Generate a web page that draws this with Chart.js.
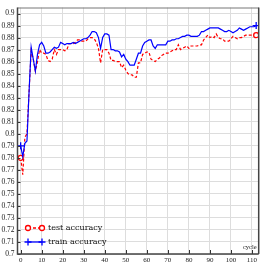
<!DOCTYPE html>
<html>
<head>
<meta charset="utf-8">
<script src="https://cdn.jsdelivr.net/npm/chart.js@4/dist/chart.umd.min.js"></script>
<style>
  html, body { margin: 0; padding: 0; background: #fff; }
  #wrap { width: 264px; height: 264px; }
</style>
</head>
<body>
<div id="wrap"><canvas id="chart" width="264" height="264"></canvas></div>
<script>
/************************ data **********************************************/
const cycles = [0, 1, 2, 3, 4, 5, 6, 7, 8, 9, 10, 11, 12, 13, 14, 15, 16, 17, 18, 19,
  20, 21, 22, 23, 24, 25, 26, 27, 28, 29, 30, 31, 32, 33, 34, 35, 36, 37, 38, 39,
  40, 41, 42, 43, 44, 45, 46, 47, 48, 49, 50, 51, 52, 53, 54, 55, 56, 57, 58, 59,
  60, 61, 62, 63, 64, 65, 66, 67, 68, 69, 70, 71, 72, 73, 74, 75, 76, 77, 78, 79,
  80, 81, 82, 83, 84, 85, 86, 87, 88, 89, 90, 91, 92, 93, 94, 95, 96, 97, 98, 99,
  100, 101, 102, 103, 104, 105, 106, 107, 108, 109, 110, 111, 112];

const testAccuracy = [0.780, 0.766, 0.797, 0.800, 0.835, 0.869, 0.862, 0.852, 0.860, 0.870,
  0.867, 0.867, 0.866, 0.861, 0.860, 0.862, 0.870, 0.866, 0.870, 0.870,
  0.870, 0.869, 0.870, 0.875, 0.875, 0.875, 0.876, 0.878, 0.878, 0.877,
  0.877, 0.877, 0.879, 0.880, 0.880, 0.879, 0.876, 0.871, 0.859, 0.870,
  0.870, 0.870, 0.867, 0.861, 0.861, 0.860, 0.860, 0.860, 0.855, 0.857,
  0.853, 0.850, 0.849, 0.849, 0.847, 0.847, 0.859, 0.859, 0.866, 0.867,
  0.868, 0.868, 0.862, 0.861, 0.860, 0.862, 0.863, 0.865, 0.866, 0.867,
  0.867, 0.868, 0.869, 0.870, 0.870, 0.874, 0.870, 0.871, 0.872, 0.873,
  0.871, 0.873, 0.873, 0.873, 0.873, 0.874, 0.874, 0.878, 0.880, 0.882,
  0.880, 0.881, 0.880, 0.883, 0.880, 0.879, 0.879, 0.877, 0.877, 0.877,
  0.879, 0.881, 0.880, 0.879, 0.880, 0.880, 0.881, 0.882, 0.882, 0.882,
  0.882, 0.882, 0.882];

const trainAccuracy = [0.790, 0.781, 0.792, 0.794, 0.835, 0.872, 0.862, 0.852, 0.866, 0.874,
  0.876, 0.873, 0.867, 0.867, 0.868, 0.870, 0.872, 0.871, 0.872, 0.876,
  0.875, 0.874, 0.875, 0.875, 0.875, 0.876, 0.875, 0.876, 0.877, 0.878,
  0.879, 0.879, 0.880, 0.882, 0.885, 0.885, 0.884, 0.880, 0.871, 0.880,
  0.883, 0.883, 0.882, 0.870, 0.870, 0.869, 0.869, 0.868, 0.864, 0.866,
  0.862, 0.860, 0.857, 0.857, 0.857, 0.862, 0.867, 0.867, 0.873, 0.876,
  0.877, 0.878, 0.878, 0.873, 0.871, 0.874, 0.874, 0.874, 0.874, 0.874,
  0.877, 0.877, 0.878, 0.878, 0.879, 0.879, 0.880, 0.881, 0.881, 0.882,
  0.882, 0.881, 0.881, 0.881, 0.881, 0.882, 0.885, 0.885, 0.886, 0.887,
  0.888, 0.888, 0.888, 0.888, 0.888, 0.887, 0.886, 0.885, 0.885, 0.886,
  0.885, 0.884, 0.885, 0.886, 0.888, 0.887, 0.886, 0.887, 0.888, 0.889,
  0.889, 0.889, 0.890];

const xTicks = [0, 10, 20, 30, 40, 50, 60, 70, 80, 90, 100, 110];
const yTicks = [0.7, 0.71, 0.72, 0.73, 0.74, 0.75, 0.76, 0.77, 0.78, 0.79, 0.8,
  0.81, 0.82, 0.83, 0.84, 0.85, 0.86, 0.87, 0.88, 0.89, 0.9];
const seriesNames = ["test accuracy", "train accuracy"];
const xTitle = "cycle";

const FONT = "'Liberation Serif', 'DejaVu Serif', serif";
const LEGEND_FONT = "'DejaVu Serif', serif";

function pairs(ys) {
  return cycles.map((c, i) => ({ x: c, y: ys[i] }));
}
function endsOnly(r) {
  return function (ctx) {
    return (ctx.dataIndex === 0 || ctx.dataIndex === cycles.length - 1) ? r : 0;
  };
}

/************************ frame, inward ticks, legend ***********************/
const decorations = {
  id: "decorations",
  afterDatasetsDraw(chart) {
    const c = chart.ctx;
    const a = chart.chartArea;
    const xs = chart.scales.x, ys = chart.scales.y;
    c.save();
    // inward ticks
    c.strokeStyle = "#333";
    c.lineWidth = 1;
    c.beginPath();
    yTicks.forEach(v => {
      const py = Math.round(ys.getPixelForValue(v)) + 0.5;
      c.moveTo(a.left, py); c.lineTo(a.left + 3, py);
    });
    xTicks.forEach(v => {
      const px = Math.round(xs.getPixelForValue(v)) + 0.5;
      c.moveTo(px, a.bottom); c.lineTo(px, a.bottom - 4);
    });
    c.stroke();
    // frame
    c.strokeStyle = "#777";
    c.lineWidth = 1;
    c.beginPath();
    c.moveTo(a.left, a.top + 0.5); c.lineTo(a.right, a.top + 0.5);
    c.stroke();
    c.strokeStyle = "#444";
    c.lineWidth = 1.5;
    c.beginPath();
    c.moveTo(a.right, a.top); c.lineTo(a.right, a.bottom);
    c.moveTo(a.left, a.top); c.lineTo(a.left, a.bottom); c.lineTo(a.right, a.bottom);
    c.stroke();

    // axis title inside the plot, lower right
    c.fillStyle = "#222";
    c.font = "6.5px " + FONT;
    c.textAlign = "right";
    c.textBaseline = "middle";
    c.fillText(xTitle, a.right - 2, a.bottom - 7);

    // legend, lower left inside the plot
    const rows = [
      { ds: chart.data.datasets[0], y: 228 },
      { ds: chart.data.datasets[1], y: 242 }
    ];
    rows.forEach(r => {
      const ds = r.ds;
      c.strokeStyle = ds.borderColor;
      c.lineWidth = 1.3;
      c.setLineDash(ds.borderDash || []);
      c.beginPath();
      c.moveTo(28, r.y); c.lineTo(42, r.y);
      c.stroke();
      c.setLineDash([]);
      [28, 42].forEach(px => {
        c.beginPath();
        if (ds.pointStyle === "circle") {
          c.fillStyle = "#fff";
          c.arc(px, r.y, 2.5, 0, Math.PI * 2);
          c.fill();
          c.stroke();
        } else {
          c.moveTo(px - 3.5, r.y); c.lineTo(px + 3.5, r.y);
          c.moveTo(px, r.y - 3.5); c.lineTo(px, r.y + 3.5);
          c.stroke();
        }
      });
      c.fillStyle = "#111";
      c.font = "8px " + LEGEND_FONT;
      c.textAlign = "left";
      c.textBaseline = "middle";
      c.fillText(ds.label, 48, r.y);
    });
    c.restore();
  }
};

/************************* CHART INITIALIZATION ******************************/
const ctx = document.getElementById("chart").getContext("2d");
const myChart = new Chart(ctx, {
  type: "line",
  data: {
    datasets: [
      {
        label: seriesNames[0],
        data: pairs(testAccuracy),
        borderColor: "#ff0000",
        backgroundColor: "#ffffff",
        borderWidth: 1.2,
        borderDash: [3, 2],
        pointStyle: "circle",
        pointRadius: endsOnly(2.5),
        pointBorderWidth: 1.3,
        pointBorderColor: "#ff0000",
        pointBackgroundColor: "#ffffff",
        order: 1,
        tension: 0,
      },
      {
        label: seriesNames[1],
        data: pairs(trainAccuracy),
        borderColor: "#0000ff",
        backgroundColor: "#0000ff",
        borderWidth: 1.2,
        pointStyle: "cross",
        pointRadius: endsOnly(3.5),
        pointBorderWidth: 1.3,
        pointBorderColor: "#0000ff",
        order: 0,
        tension: 0,
      },
    ],
  },
  options: {
    responsive: false,
    animation: false,
    devicePixelRatio: 1,
    layout: { padding: { top: 4, right: 4.5, left: 0, bottom: 0 } },
    plugins: {
      legend: { display: false },
      tooltip: { enabled: false },
    },
    scales: {
      x: {
        type: "linear",
        min: -1.5,
        max: 113.2,
        afterBuildTicks: s => { s.ticks = xTicks.map(v => ({ value: v })); },
        afterFit: s => { s.height = 10; },
        grid: { color: "#dddddd", lineWidth: 1, drawTicks: false },
        border: { display: false },
        ticks: {
          padding: 2,
          maxRotation: 0,
          autoSkip: false,
          color: "#222",
          font: { family: FONT, size: 7 },
          callback: v => String(v),
        },
      },
      y: {
        type: "linear",
        min: 0.7,
        max: 0.905,
        afterBuildTicks: s => { s.ticks = yTicks.map(v => ({ value: v })); },
        afterFit: s => { s.width = 17.5; },
        grid: { color: "#dddddd", lineWidth: 1, drawTicks: false },
        border: { display: false },
        ticks: {
          padding: 3,
          autoSkip: false,
          color: "#222",
          font: { family: FONT, size: 7.5 },
          callback: v => String(Number(v.toFixed(2))),
        },
      },
    },
  },
  plugins: [decorations],
});
</script>
</body>
</html>
